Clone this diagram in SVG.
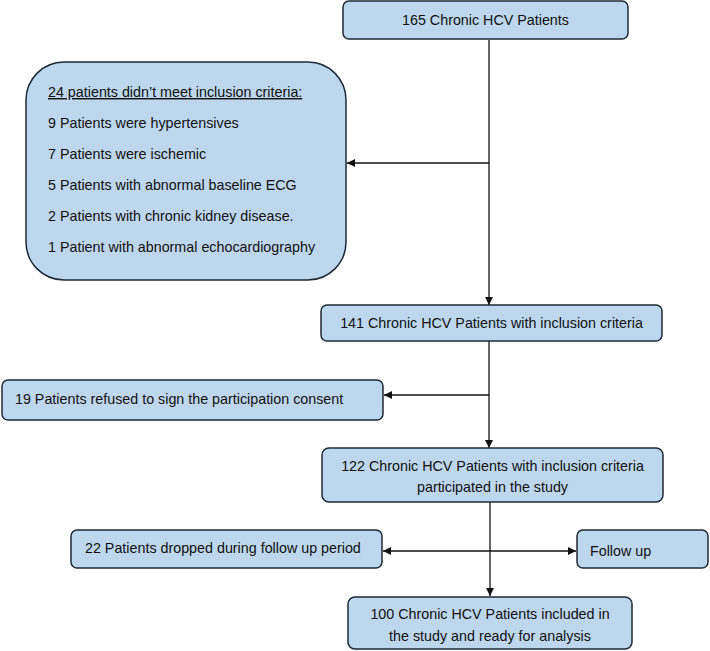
<svg xmlns="http://www.w3.org/2000/svg" width="710" height="651" viewBox="0 0 710 651">
<style>
.box{fill:#bdd7ee;stroke:#1e2a36;stroke-width:1.5}
.t{font-family:"Liberation Sans",Arial,sans-serif;font-size:14.3px;fill:#111}
.c{text-anchor:middle}
.ln{stroke:#111;stroke-width:1.3;fill:none}
</style>
<defs>
<marker id="ah" viewBox="0 0 10 10" refX="10" refY="5" markerWidth="8" markerHeight="8" markerUnits="userSpaceOnUse" orient="auto">
<path d="M0,0 L10,5 L0,10 z" fill="#111"/>
</marker>
</defs>
<rect width="710" height="651" fill="#fff"/>
<g id="connectors">
<line class="ln" x1="489" y1="40" x2="489" y2="305" marker-end="url(#ah)"/>
<line class="ln" x1="489" y1="163" x2="347" y2="163" marker-end="url(#ah)"/>
<line class="ln" x1="489" y1="341" x2="489" y2="448" marker-end="url(#ah)"/>
<line class="ln" x1="489" y1="395" x2="384" y2="395" marker-end="url(#ah)"/>
<line class="ln" x1="490" y1="502" x2="490" y2="596" marker-end="url(#ah)"/>
<line class="ln" x1="490" y1="551" x2="383" y2="551" marker-end="url(#ah)"/>
<line class="ln" x1="490" y1="551" x2="576" y2="551" marker-end="url(#ah)"/>
</g>
<g id="n165">
<rect class="box" x="343" y="1" width="285" height="38" rx="6"/>
<text class="t c" x="485.5" y="25">165 Chronic HCV Patients</text>
</g>
<g id="excluded">
<rect class="box" x="26" y="62" width="320" height="218" rx="38"/>
<text class="t" x="48" y="97" text-decoration="underline">24 patients didn’t meet inclusion criteria:</text>
<text class="t" x="48" y="128">9 Patients were hypertensives</text>
<text class="t" x="48" y="159">7 Patients were ischemic</text>
<text class="t" x="48" y="190">5 Patients with abnormal baseline ECG</text>
<text class="t" x="48" y="221">2 Patients with chronic kidney disease.</text>
<text class="t" x="48" y="252">1 Patient with abnormal echocardiography</text>
</g>
<g id="n141">
<rect class="box" x="321" y="305" width="341" height="36" rx="6"/>
<text class="t c" x="491.5" y="328">141 Chronic HCV Patients with inclusion criteria</text>
</g>
<g id="refused">
<rect class="box" x="2" y="380" width="381" height="40" rx="6"/>
<text class="t" x="15" y="403.5">19 Patients refused to sign the participation consent</text>
</g>
<g id="n122">
<rect class="box" x="322" y="448" width="341" height="54" rx="7"/>
<text class="t c" x="492.5" y="471">122 Chronic HCV Patients with inclusion criteria</text>
<text class="t c" x="492.5" y="492">participated in the study</text>
</g>
<g id="dropped">
<rect class="box" x="71" y="530" width="311" height="38" rx="6"/>
<text class="t" x="85" y="553">22 Patients dropped during follow up period</text>
</g>
<g id="followup">
<rect class="box" x="577" y="530" width="131" height="38" rx="6"/>
<text class="t" x="590" y="556">Follow up</text>
</g>
<g id="n100">
<rect class="box" x="348" y="597" width="284" height="52" rx="7"/>
<text class="t c" x="490" y="619">100 Chronic HCV Patients included in</text>
<text class="t c" x="490" y="641">the study and ready for analysis</text>
</g>
</svg>
